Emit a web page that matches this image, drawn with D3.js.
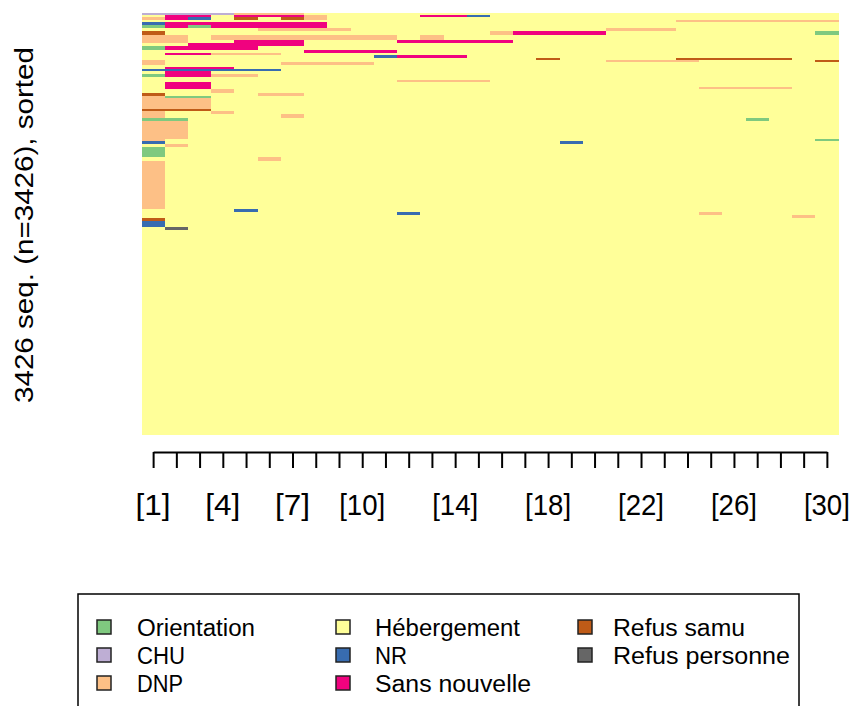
<!DOCTYPE html>
<html>
<head>
<meta charset="utf-8">
<script src="https://cdn.jsdelivr.net/npm/d3@7/dist/d3.min.js"></script>
<style>
  body { margin: 0; background: #fff; }
  svg text { font-family: "Liberation Sans", Arial, sans-serif; fill: #000; }
</style>
</head>
<body>
<svg id="chart" width="854" height="706"></svg>
<script>
// states of the sequences (alphabet), in legend order
var stateCodes = ["O", "C", "D", "H", "N", "S", "R", "P"];
var stateLabels = ["Orientation", "CHU", "DNP", "Hébergement", "NR", "Sans nouvelle", "Refus samu", "Refus personne"];
var stateColors = ["#7FC97F", "#BEAED4", "#FDC086", "#FFFF99", "#386CB0", "#F0027F", "#BF5B17", "#666666"];

// positions 1..30 and the labelled ones
var positions = d3.range(1, 31);
var tickLabelPos = [1, 4, 7, 10, 14, 18, 22, 26, 30];
var tickLabels = ["[1]", "[4]", "[7]", "[10]", "[14]", "[18]", "[22]", "[26]", "[30]"];

// distinct sequences, from top of the plot to bottom (run-length: state + length)
var seqPatterns = [
  "C4 D3 H23",
  "H1 S2 H1 S3 D1 H4 S2 N1 H15",
  "D1 S1 N1 H1 R1 H1 R1 D1 H22",
  "H23 D7",
  "N1 S7 H22",
  "O1 S1 O1 S5 H22",
  "H5 D4 H11 D3 H7",
  "R1 H14 D1 S4 H9 O1",
  "D2 H1 D8 H1 D1 H17",
  "D2 H2 S3 H4 S5 H14",
  "H2 S5 H23",
  "O1 S4 H25",
  "H7 S4 H19",
  "H1 S2 D3 H24",
  "H10 N1 S3 H16",
  "H17 R1 H5 R5 H2",
  "D1 H19 D4 H5 R1",
  "D1 H5 D4 H20",
  "H30",
  "H1 S3 H26",
  "N6 H24",
  "H1 S2 H27",
  "O1 S2 D2 H25",
  "H30",
  "H11 D4 H15",
  "H1 S2 H27",
  "H1 S2 H21 D4 H2",
  "H3 D1 H26",
  "R1 H4 D2 H23",
  "D1 O2 H27",
  "D3 H27",
  "R3 H27",
  "D1 H2 D1 H26",
  "D1 H5 D1 H23",
  "O2 H24 O1 H3",
  "D2 H28",
  "D1 H28 O1",
  "N1 H17 N1 H11",
  "H1 D1 H28",
  "O1 H29",
  "H5 D1 H24",
  "D1 H29",
  "H4 N1 H25",
  "H11 N1 H12 D1 H5",
  "H28 D1 H1",
  "R1 H29",
  "N1 H29",
  "H1 P1 H28",
  "H30"
];
var seqCounts = [16, 20, 24, 12, 24, 24, 24, 32, 41, 24, 24, 32, 24, 24, 24, 16, 16, 24, 16, 16,
  16, 24, 24, 24, 16, 41, 16, 32, 24, 16, 89, 16, 24, 32, 24, 146, 16, 24, 24, 81,
  32, 390, 24, 24, 32, 24, 49, 24, 1661];
var nSeq = 3426;

var svg = d3.select("#chart");

var x = d3.scaleLinear().domain([0.5, 30.5]).range([141.5, 838.5]);
var y = d3.scaleLinear().domain([0, nSeq]).range([13, 435]);
var color = d3.scaleOrdinal().domain(stateCodes).range(stateColors);

// turn the patterns into rectangles
var rects = [];
var start = 0;
seqPatterns.forEach(function(p, i) {
  var col = 1;
  p.split(" ").forEach(function(tok) {
    var st = tok.charAt(0), len = +tok.slice(1);
    rects.push({state: st, c0: col, c1: col + len, s0: start, s1: start + seqCounts[i]});
    col += len;
  });
  start += seqCounts[i];
});

svg.append("g")
  .selectAll("rect")
  .data(rects)
  .enter()
  .append("rect")
  .attr("x", function(d) { return x(d.c0 - 0.5); })
  .attr("width", function(d) { return x(d.c1 - 0.5) - x(d.c0 - 0.5); })
  .attr("y", function(d) { return y(d.s0); })
  .attr("height", function(d) { return y(d.s1) - y(d.s0); })
  .attr("fill", function(d) { return color(d.state); })
  .attr("shape-rendering", "crispEdges");

// x axis, line only from first to last position
var xa = x.copy().domain([1, 30]).range([x(1), x(30)]);
var axis = svg.append("g")
  .attr("transform", "translate(0,452)")
  .call(d3.axisBottom(xa).tickValues(positions).tickSize(16).tickSizeOuter(0).tickFormat(""));
axis.selectAll("path, line").attr("stroke", "#000").attr("stroke-width", 2);

svg.append("g")
  .selectAll("text")
  .data(tickLabelPos)
  .enter()
  .append("text")
  .attr("x", function(d) { return x(d); })
  .attr("y", 515)
  .attr("text-anchor", "middle")
  .attr("font-size", 30)
  .attr("textLength", function(d, i) { return tickLabels[i].length > 3 ? 46 : 35; })
  .attr("lengthAdjust", "spacingAndGlyphs")
  .text(function(d, i) { return tickLabels[i]; });

// y label
svg.append("text")
  .attr("transform", "translate(33,225) rotate(-90)")
  .attr("text-anchor", "middle")
  .attr("font-size", 26)
  .attr("textLength", 356)
  .attr("lengthAdjust", "spacingAndGlyphs")
  .text(nSeq + " seq. (n=" + nSeq + "), sorted");

// legend
var legend = svg.append("g");
legend.append("rect")
  .attr("x", 78).attr("y", 594)
  .attr("width", 721).attr("height", 140)
  .attr("fill", "none").attr("stroke", "#000").attr("stroke-width", 1.5);

var legX = [97, 336, 578], legTxtX = [137, 375, 613], legY = [628, 656, 684];
var legW = [118, 48, 46, 145, 32, 156, 132, 177];

var items = legend.selectAll("g.item")
  .data(stateLabels)
  .enter()
  .append("g")
  .attr("class", "item");

items.append("rect")
  .attr("x", function(d, i) { return legX[Math.floor(i / 3)]; })
  .attr("y", function(d, i) { return legY[i % 3] - 8; })
  .attr("width", 14).attr("height", 14)
  .attr("fill", function(d, i) { return stateColors[i]; })
  .attr("stroke", "#222").attr("stroke-width", 1.5);

items.append("text")
  .attr("x", function(d, i) { return legTxtX[Math.floor(i / 3)]; })
  .attr("y", function(d, i) { return legY[i % 3] + 8; })
  .attr("font-size", 23)
  .attr("textLength", function(d, i) { return legW[i]; })
  .attr("lengthAdjust", "spacingAndGlyphs")
  .text(function(d) { return d; });
</script>
</body>
</html>
